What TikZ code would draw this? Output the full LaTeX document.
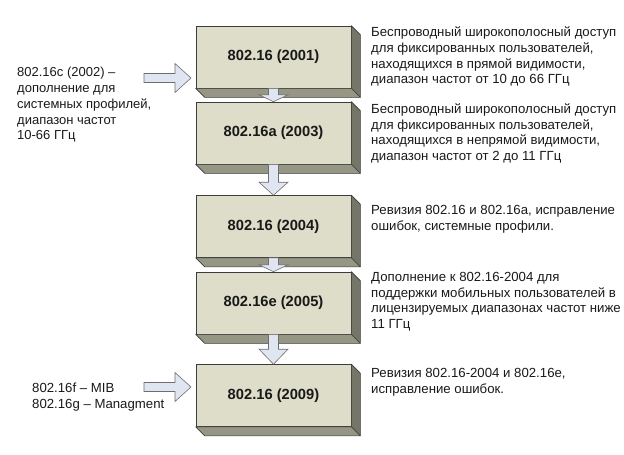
\documentclass[tikz,border=0pt]{standalone}
\usepackage{fontspec}
\setmainfont{Liberation Sans}
\usetikzlibrary{calc}
\definecolor{facefront}{RGB}{221,221,202}
\definecolor{faceright}{RGB}{118,118,104}
\definecolor{facebottom}{RGB}{150,150,132}
\definecolor{arrowfill}{RGB}{224,229,242}
\definecolor{edgecol}{RGB}{60,60,60}
\definecolor{arrowedge}{RGB}{110,110,110}
\definecolor{txtcol}{RGB}{25,25,25}
\begin{document}
\begin{tikzpicture}[x=1pt,y=-1pt,
  stdbox/.style={draw=edgecol, fill=facefront, line width=0.6pt,
    minimum width=155pt, minimum height=62pt, inner sep=0pt,
    text=txtcol, font=\bfseries\fontsize{14.7}{17}\selectfont},
  sideR/.style={draw=edgecol, fill=faceright, line width=0.6pt, line join=round},
  sideB/.style={draw=edgecol, fill=facebottom, line width=0.6pt, line join=round},
  blockarr/.style={draw=arrowedge, fill=arrowfill, line width=0.6pt, line join=miter},
  desc/.style={anchor=north west, inner sep=0pt, align=left, text=txtcol,
    font=\fontsize{13.2}{15.6}\selectfont},
  descL/.style={anchor=north west, inner sep=0pt, align=left, text=txtcol,
    font=\fontsize{13}{15.8}\selectfont}
]
\useasboundingbox (0,0) rectangle (624,455);

% boxes
\node[stdbox] (b1) at (273.5,57) {802.16 (2001)};
\node[stdbox] (b2) at (273.5,133) {802.16a (2003)};
\node[stdbox] (b3) at (273.5,226.5) {802.16 (2004)};
\node[stdbox] (b4) at (273.5,303) {802.16e (2005)};
\node[stdbox] (b5) at (273.5,395.5) {802.16 (2009)};

\foreach \b in {b1,b2,b3,b4,b5}{
  \draw[sideR] (\b.north east) -- ++(9,9) -- ($(\b.south east)+(9,9)$) -- (\b.south east) -- cycle;
  \draw[sideB] (\b.south west) -- (\b.south east) -- ($(\b.south east)+(9,9)$) -- ($(\b.south west)+(9,9)$) -- cycle;
}

% vertical block arrows
\draw[blockarr] ($(b1.south)+(-5,0)$) -- ($(b2.north)+(-5,-7)$) -- ($(b2.north)+(-14.5,-7)$) -- (b2.north)
  -- ($(b2.north)+(14.5,-7)$) -- ($(b2.north)+(5,-7)$) -- ($(b1.south)+(5,0)$) -- cycle;
\draw[blockarr] ($(b2.south)+(-5,0)$) -- ($(b3.north)+(-5,-13)$) -- ($(b3.north)+(-14.5,-13)$) -- (b3.north)
  -- ($(b3.north)+(14.5,-13)$) -- ($(b3.north)+(5,-13)$) -- ($(b2.south)+(5,0)$) -- cycle;
\draw[blockarr] ($(b3.south)+(-5,0)$) -- ($(b4.north)+(-5,-7)$) -- ($(b4.north)+(-14.5,-7)$) -- (b4.north)
  -- ($(b4.north)+(14.5,-7)$) -- ($(b4.north)+(5,-7)$) -- ($(b3.south)+(5,0)$) -- cycle;
\draw[blockarr] ($(b4.south)+(-5,0)$) -- ($(b5.north)+(-5,-15)$) -- ($(b5.north)+(-14.5,-15)$) -- (b5.north)
  -- ($(b5.north)+(14.5,-15)$) -- ($(b5.north)+(5,-15)$) -- ($(b4.south)+(5,0)$) -- cycle;

% horizontal block arrows
\coordinate (s1) at (144,78);
\coordinate (t1) at (191,78);
\coordinate (s2) at (144,387);
\coordinate (t2) at (191,387);
\foreach \s/\t in {s1/t1, s2/t2}{
  \draw[blockarr] ($(\s)+(0,-4.5)$) -- ($(\t)+(-16,-4.5)$) -- ($(\t)+(-16,-14.5)$) -- (\t)
    -- ($(\t)+(-16,14.5)$) -- ($(\t)+(-16,4.5)$) -- ($(\s)+(0,4.5)$) -- cycle;
}

% left texts
\node[descL] (l1) at (17,76.5-11.06) {\strut 802.16c (2002) –\\дополнение для\\системных профилей,\\диапазон частот\\10-66 ГГц};
\node[desc] (l2) at (32,392.7-10.92) {\strut 802.16f – MIB\\802.16g – Managment};

% right texts
\node[desc] (r1) at (371,36.7-10.92) {\strut Беспроводный широкополосный доступ\\для фиксированных пользователей,\\находящихся в прямой видимости,\\диапазон частот от 10 до 66 ГГц};
\node[desc] (r2) at (371,113.3-10.92) {\strut Беспроводный широкополосный доступ\\для фиксированных пользователей,\\находящихся в непрямой видимости,\\диапазон частот от 2 до 11 ГГц};
\node[desc] (r3) at (371,214.3-10.92) {\strut Ревизия 802.16 и 802.16а, исправление\\ошибок, системные профили.};
\node[desc] (r4) at (371,281.3-10.92) {\strut Дополнение к 802.16-2004 для\\поддержки мобильных пользователей в\\лицензируемых диапазонах частот ниже\\11 ГГц};
\node[desc] (r5) at (371,377.5-10.92) {\strut Ревизия 802.16-2004 и 802.16е,\\исправление ошибок.};
\end{tikzpicture}
\end{document}
